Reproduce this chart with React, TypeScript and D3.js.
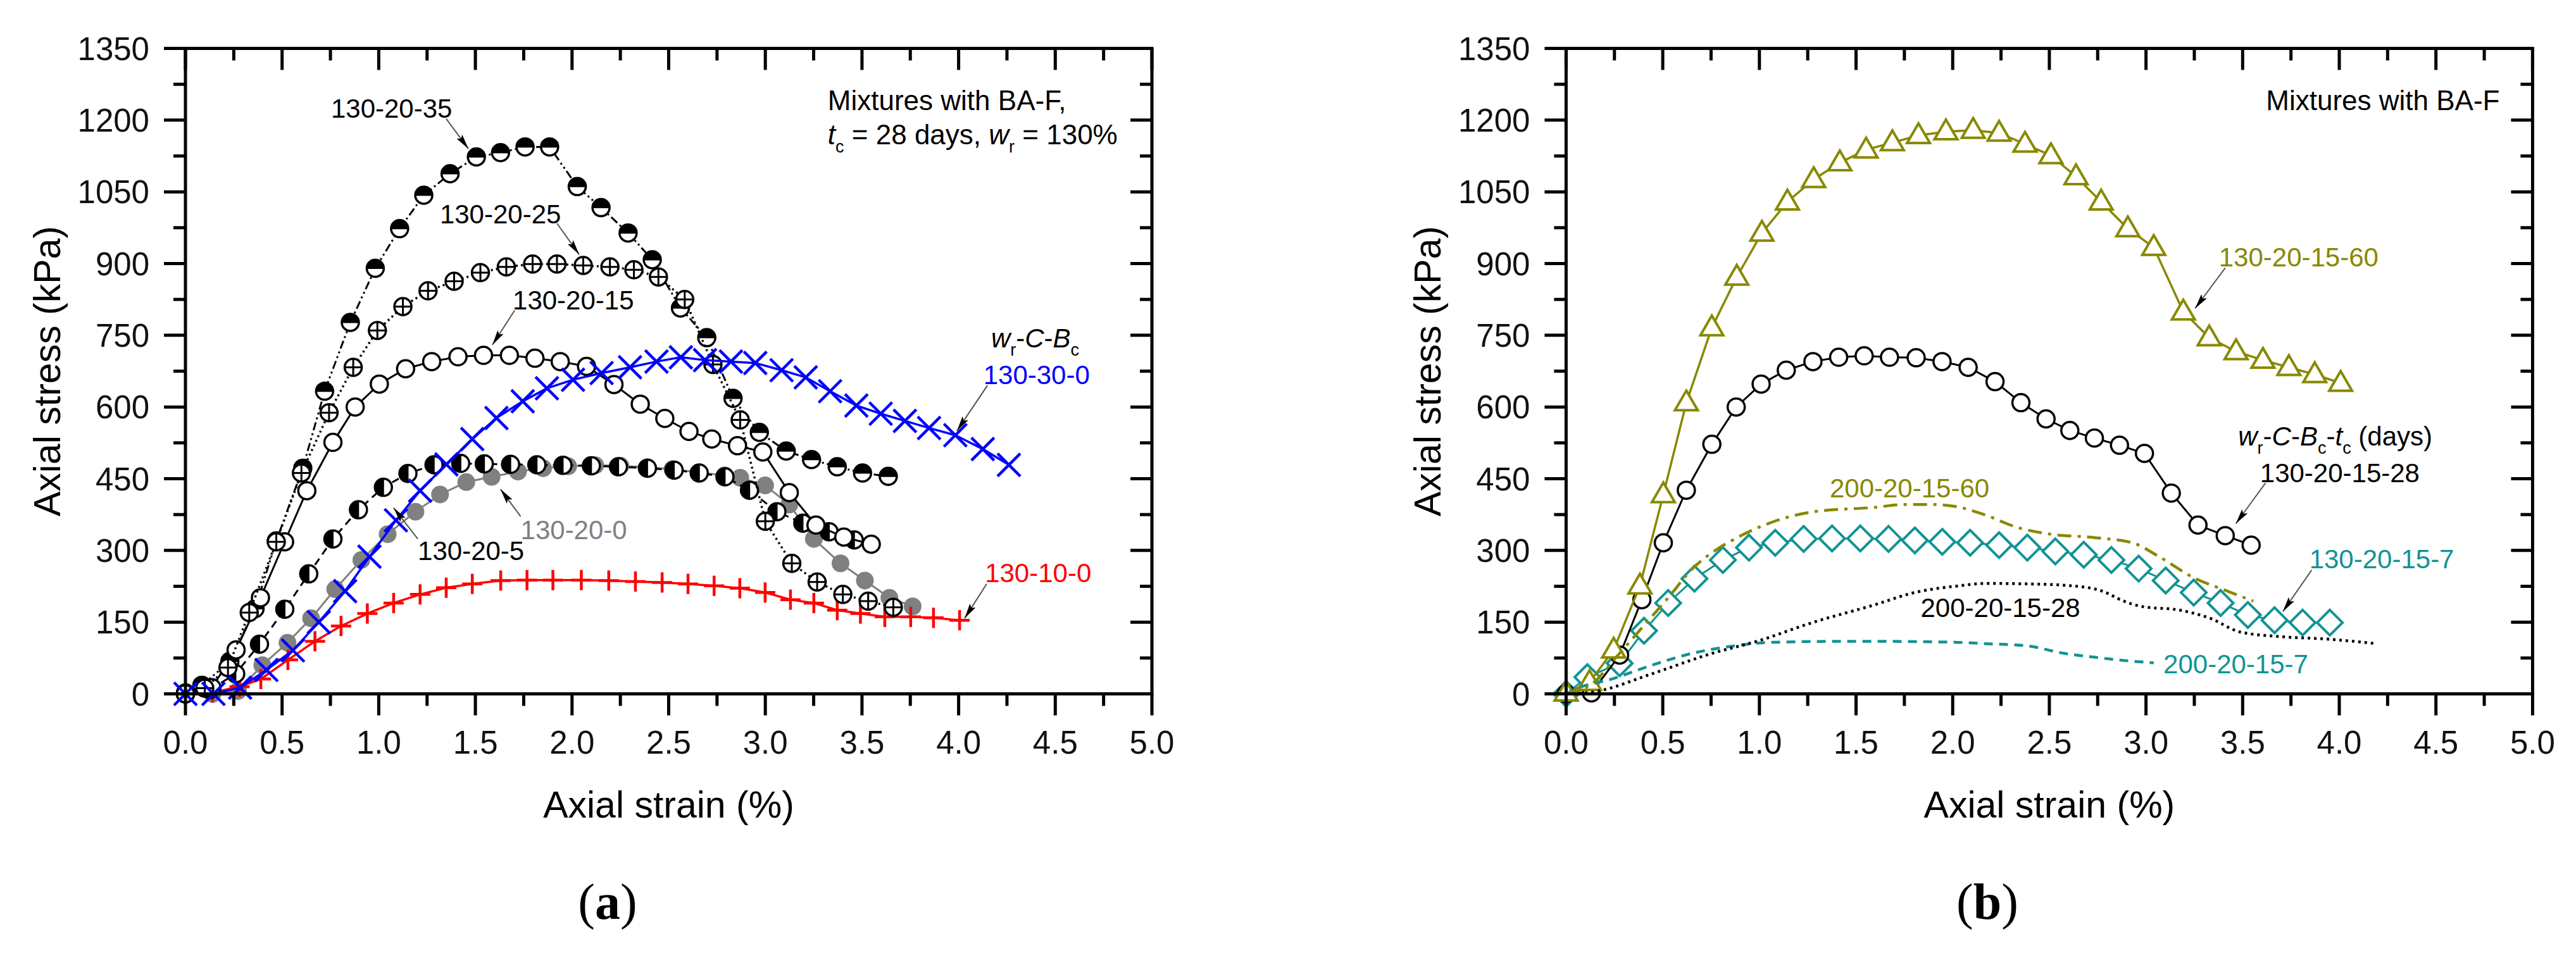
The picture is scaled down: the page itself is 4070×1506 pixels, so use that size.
import React from "react";
import * as d3 from "d3";

type Pt = [number, number];

// axis ticks
const xTicks = [0, 0.5, 1, 1.5, 2, 2.5, 3, 3.5, 4, 4.5, 5];
const yTicks = [0, 150, 300, 450, 600, 750, 900, 1050, 1200, 1350];
const xMinor = d3.range(0.25, 5, 0.5);
const yMinor = d3.range(75, 1350, 150);

// panel (a): [axial strain %, axial stress kPa]
const a130_20_35: Pt[] = [
  [0, 2], [0.085, 18], [0.23, 68], [0.36, 178], [0.47, 320], [0.607, 472], [0.72, 633],
  [0.853, 777], [0.982, 890], [1.108, 973], [1.233, 1043], [1.369, 1088], [1.505, 1123],
  [1.63, 1132], [1.757, 1144], [1.884, 1144], [2.027, 1061], [2.15, 1017], [2.29, 964],
  [2.415, 908], [2.561, 807], [2.697, 745], [2.833, 618], [2.969, 547], [3.108, 508],
  [3.239, 490], [3.372, 475], [3.503, 462], [3.636, 455],
];
const a130_20_25: Pt[] = [
  [0, 0], [0.1, 12], [0.22, 55], [0.33, 170], [0.47, 318], [0.6, 462], [0.743, 588],
  [0.868, 683], [0.993, 760], [1.125, 810], [1.255, 843], [1.39, 863], [1.526, 881],
  [1.66, 893], [1.796, 899], [1.922, 899], [2.058, 896], [2.196, 893], [2.32, 887],
  [2.447, 872], [2.583, 825], [2.729, 689], [2.87, 573], [3.0, 361], [3.137, 273],
  [3.268, 234], [3.401, 208], [3.532, 194], [3.662, 181],
];
const a130_20_15: Pt[] = [
  [0, 0], [0.137, 13], [0.262, 92], [0.388, 201], [0.513, 318], [0.628, 425], [0.763, 526],
  [0.878, 600], [1.003, 648], [1.139, 680], [1.274, 695], [1.41, 705], [1.542, 708],
  [1.676, 708], [1.808, 702], [1.939, 695], [2.075, 685], [2.217, 647], [2.353, 606],
  [2.48, 576], [2.605, 549], [2.723, 533], [2.856, 519], [2.987, 506], [3.124, 421],
  [3.262, 353], [3.406, 328], [3.548, 313],
];
const a130_20_5: Pt[] = [
  [0, 0], [0.127, 9], [0.26, 42], [0.383, 104], [0.514, 177], [0.638, 251], [0.763, 324],
  [0.895, 385], [1.024, 432], [1.151, 461], [1.286, 479], [1.424, 482], [1.546, 481],
  [1.682, 480], [1.818, 479], [1.953, 478], [2.1, 477], [2.24, 475], [2.39, 472],
  [2.528, 468], [2.658, 462], [2.791, 454], [2.918, 426], [3.06, 381], [3.194, 357],
  [3.33, 339], [3.46, 322],
];
const a130_20_0: Pt[] = [
  [0, 0], [0.14, 0], [0.272, 6], [0.398, 60], [0.528, 107], [0.65, 158], [0.775, 219],
  [0.91, 280], [1.046, 334], [1.19, 381], [1.317, 417], [1.453, 443], [1.584, 454],
  [1.72, 465], [1.85, 472], [1.98, 476], [2.12, 478], [2.25, 477], [2.39, 474], [2.52, 470],
  [2.66, 463], [2.79, 457], [2.87, 452], [2.999, 436], [3.124, 396], [3.251, 324],
  [3.389, 273], [3.515, 237], [3.642, 201], [3.762, 183],
];
const a130_30_0: Pt[] = [
  [0, 0], [0.145, 0], [0.283, 13], [0.419, 50], [0.556, 91], [0.69, 150], [0.826, 215],
  [0.952, 287], [1.089, 363], [1.214, 425], [1.35, 480], [1.484, 533], [1.609, 577],
  [1.745, 612], [1.87, 639], [2.005, 657], [2.153, 671], [2.3, 683], [2.437, 695],
  [2.563, 704], [2.688, 698], [2.822, 695], [2.948, 692], [3.084, 677], [3.209, 662],
  [3.335, 633], [3.471, 603], [3.597, 586], [3.722, 571], [3.847, 556], [3.983, 541],
  [4.125, 512], [4.26, 479],
];
const a130_10_0: Pt[] = [
  [0, 0], [0.14, 3], [0.28, 15], [0.39, 31], [0.53, 71], [0.67, 110], [0.805, 142],
  [0.941, 168], [1.077, 190], [1.214, 208], [1.349, 222], [1.484, 230], [1.631, 237],
  [1.767, 238], [1.901, 238], [2.048, 238], [2.19, 237], [2.328, 235], [2.466, 233],
  [2.6, 230], [2.735, 226], [2.868, 221], [2.999, 212], [3.13, 197], [3.251, 190],
  [3.372, 175], [3.492, 168], [3.618, 161], [3.752, 161], [3.87, 159], [4.005, 154],
];

// panel (b)
const b130_20_15_60: Pt[] = [
  [0, 2], [0.121, 24], [0.246, 92], [0.382, 226], [0.503, 417], [0.622, 609], [0.754, 766],
  [0.883, 872], [1.013, 964], [1.145, 1029], [1.281, 1076], [1.416, 1111], [1.552, 1138],
  [1.688, 1153], [1.823, 1168], [1.965, 1176], [2.106, 1179], [2.24, 1173], [2.374, 1150],
  [2.508, 1126], [2.638, 1082], [2.768, 1029], [2.906, 973], [3.04, 934], [3.193, 799],
  [3.327, 745], [3.466, 716], [3.605, 698], [3.739, 683], [3.873, 668], [4.007, 650],
];
const b130_20_15_28: Pt[] = [
  [0, 0], [0.131, 2], [0.277, 81], [0.392, 197], [0.503, 316], [0.622, 426], [0.754, 522],
  [0.88, 600], [1.009, 648], [1.139, 677], [1.277, 695], [1.41, 704], [1.542, 707],
  [1.673, 704], [1.811, 703], [1.945, 695], [2.08, 683], [2.219, 653], [2.353, 609],
  [2.483, 575], [2.606, 551], [2.733, 535], [2.863, 520], [2.992, 503], [3.131, 420],
  [3.269, 353], [3.41, 331], [3.544, 311],
];
const b130_20_15_7: Pt[] = [
  [0, 0], [0.11, 35], [0.277, 64], [0.403, 132], [0.528, 190], [0.664, 241], [0.811, 280],
  [0.946, 306], [1.082, 316], [1.229, 324], [1.376, 325], [1.522, 325], [1.668, 324],
  [1.804, 321], [1.946, 318], [2.09, 316], [2.24, 311], [2.386, 306], [2.531, 298],
  [2.678, 291], [2.821, 280], [2.962, 262], [3.102, 237], [3.247, 212], [3.386, 190],
  [3.527, 165], [3.665, 154], [3.81, 149], [3.951, 149],
];
const b200_20_15_60: Pt[] = [
  [0, 0], [0.13, 20], [0.277, 85], [0.403, 143], [0.528, 201], [0.654, 262], [0.779, 302],
  [0.863, 322], [1.072, 360], [1.281, 381], [1.594, 390], [1.75, 396], [1.9, 396],
  [2.013, 392], [2.17, 374], [2.327, 349], [2.505, 334], [2.73, 327], [2.93, 316],
  [3.064, 288], [3.242, 244], [3.421, 215], [3.555, 194],
];
const b200_20_15_28: Pt[] = [
  [0, 0], [0.153, 5], [0.444, 42], [0.758, 85], [0.987, 110], [1.281, 150], [1.594, 186],
  [1.803, 212], [2.034, 226], [2.17, 231], [2.393, 230], [2.617, 226], [2.773, 215],
  [2.885, 194], [2.975, 183], [3.176, 175], [3.332, 158], [3.49, 129], [3.69, 120],
  [3.958, 114], [4.193, 105],
];
const b200_20_15_7: Pt[] = [
  [0, 0], [0.067, 13], [0.236, 31], [0.444, 60], [0.654, 85], [0.863, 100], [1.072, 108],
  [1.49, 110], [2.012, 108], [2.17, 105], [2.393, 100], [2.571, 85], [2.728, 77],
  [2.906, 69], [3.04, 65],
];

const FONT = "'Liberation Sans', Arial, sans-serif";
const SERIF = "'Liberation Serif', 'Times New Roman', serif";
const OLIVE = "#888800";
const TEAL = "#129393";
const GRAY = "#808080";
const BLUE = "#0000ff";
const RED = "#ff0000";

const TOP = 76.5;
const BOTTOM = 1096.5;
const PW = 1527;

type Scale = d3.ScaleLinear<number, number>;
type MarkerKind = "open" | "halfTop" | "halfLeft" | "cross" | "dot" | "x" | "plus" | "tri" | "diamond";

function Marker({ kind, cx, cy, color }: { kind: MarkerKind; cx: number; cy: number; color: string }) {
  const r = 13.5;
  switch (kind) {
    case "open":
      return <circle cx={cx} cy={cy} r={r} fill="#fff" stroke={color} strokeWidth={3.5} />;
    case "halfTop":
      return (
        <g>
          <circle cx={cx} cy={cy} r={r} fill="#fff" />
          <path d={`M${cx - r},${cy + 1} A${r},${r} 0 0 1 ${cx + r},${cy + 1} Z`} fill="#000" />
          <circle cx={cx} cy={cy} r={r} fill="none" stroke="#000" strokeWidth={3.5} />
        </g>
      );
    case "halfLeft":
      return (
        <g>
          <circle cx={cx} cy={cy} r={r} fill="#fff" />
          <path d={`M${cx + 1},${cy - r} A${r},${r} 0 0 0 ${cx + 1},${cy + r} Z`} fill="#000" />
          <circle cx={cx} cy={cy} r={r} fill="none" stroke="#000" strokeWidth={3.5} />
        </g>
      );
    case "cross":
      return (
        <g stroke="#000" strokeWidth={3}>
          <circle cx={cx} cy={cy} r={r} fill="#fff" strokeWidth={3.5} />
          <line x1={cx - r} x2={cx + r} y1={cy} y2={cy} />
          <line x1={cx} x2={cx} y1={cy - r} y2={cy + r} />
        </g>
      );
    case "dot":
      return <circle cx={cx} cy={cy} r={14} fill={color} />;
    case "x": {
      const s = 18;
      return (
        <g stroke={color} strokeWidth={4.5}>
          <line x1={cx - s} y1={cy - s} x2={cx + s} y2={cy + s} />
          <line x1={cx - s} y1={cy + s} x2={cx + s} y2={cy - s} />
        </g>
      );
    }
    case "plus": {
      const s = 16;
      return (
        <g stroke={color} strokeWidth={4.5}>
          <line x1={cx - s} y1={cy} x2={cx + s} y2={cy} />
          <line x1={cx} y1={cy - s} x2={cx} y2={cy + s} />
        </g>
      );
    }
    case "tri":
      return (
        <path
          d={`M${cx},${cy - 19} L${cx + 18},${cy + 12} L${cx - 18},${cy + 12} Z`}
          fill="#fff"
          stroke={color}
          strokeWidth={4}
          strokeLinejoin="miter"
        />
      );
    case "diamond":
      return (
        <path
          d={`M${cx},${cy - 20} L${cx + 20},${cy} L${cx},${cy + 20} L${cx - 20},${cy} Z`}
          fill="#fff"
          stroke={color}
          strokeWidth={4}
        />
      );
  }
}

function Series({
  data, x, y, color, dash, width = 3, marker, smooth = false,
}: {
  data: Pt[]; x: Scale; y: Scale; color: string; dash?: string; width?: number;
  marker?: MarkerKind; smooth?: boolean;
}) {
  const line = d3
    .line<Pt>()
    .x((d) => x(d[0]))
    .y((d) => y(d[1]))
    .curve(smooth ? d3.curveMonotoneX : d3.curveLinear);
  return (
    <g>
      <path d={line(data) ?? ""} fill="none" stroke={color} strokeWidth={width} strokeDasharray={dash} />
      {marker &&
        data.map((d, i) => <Marker key={i} kind={marker} cx={x(d[0])} cy={y(d[1])} color={color} />)}
    </g>
  );
}

function Arrow({ x, y, from, to }: { x: Scale; y: Scale; from: Pt; to: Pt }) {
  return (
    <line
      x1={x(from[0])}
      y1={y(from[1])}
      x2={x(to[0])}
      y2={y(to[1])}
      stroke="#555"
      strokeWidth={2}
      markerEnd="url(#head)"
    />
  );
}

function Label({ x, y, at, color = "#000", size = 42, anchor = "start", children }: {
  x: Scale; y: Scale; at: Pt; color?: string; size?: number; anchor?: string; children: React.ReactNode;
}) {
  return (
    <text x={x(at[0])} y={y(at[1])} fill={color} fontSize={size} textAnchor={anchor as any} fontFamily={FONT}>
      {children}
    </text>
  );
}

function Panel({ left, tag, tagX, draw }: {
  left: number; tag: string; tagX: number; draw: (x: Scale, y: Scale) => React.ReactNode;
}) {
  const x = d3.scaleLinear().domain([0, 5]).range([left, left + PW]);
  const y = d3.scaleLinear().domain([0, 1350]).range([BOTTOM, TOP]);
  const right = left + PW;
  const fx = d3.format(".1f");
  const major = 34;
  const minor = 19;
  return (
    <g fontFamily={FONT}>
      {draw(x, y)}
      {/* frame */}
      <rect x={left} y={TOP} width={PW} height={BOTTOM - TOP} fill="none" stroke="#000" strokeWidth={5} />
      <g stroke="#000" strokeWidth={5}>
        {xTicks.map((t) => (
          <g key={"x" + t}>
            <line x1={x(t)} x2={x(t)} y1={BOTTOM} y2={BOTTOM + major} />
            <line x1={x(t)} x2={x(t)} y1={TOP} y2={TOP + major} />
          </g>
        ))}
        {xMinor.map((t) => (
          <g key={"xm" + t}>
            <line x1={x(t)} x2={x(t)} y1={BOTTOM} y2={BOTTOM + minor} />
            <line x1={x(t)} x2={x(t)} y1={TOP} y2={TOP + minor} />
          </g>
        ))}
        {yTicks.map((t) => (
          <g key={"y" + t}>
            <line x1={left - major} x2={left} y1={y(t)} y2={y(t)} />
            <line x1={right - major} x2={right} y1={y(t)} y2={y(t)} />
          </g>
        ))}
        {yMinor.map((t) => (
          <g key={"ym" + t}>
            <line x1={left - minor} x2={left} y1={y(t)} y2={y(t)} />
            <line x1={right - minor} x2={right} y1={y(t)} y2={y(t)} />
          </g>
        ))}
      </g>
      {xTicks.map((t) => (
        <text key={"xl" + t} x={x(t)} y={BOTTOM + 94} fontSize={51} textAnchor="middle" fill="#111">
          {fx(t)}
        </text>
      ))}
      {yTicks.map((t) => (
        <text key={"yl" + t} x={left - 57} y={y(t) + 18} fontSize={51} textAnchor="end" fill="#111">
          {t}
        </text>
      ))}
      <text x={(left + right) / 2} y={1292} fontSize={59} textAnchor="middle">
        Axial strain (%)
      </text>
      <text
        transform={`translate(${left - 198},${(TOP + BOTTOM) / 2}) rotate(-90)`}
        fontSize={59}
        textAnchor="middle"
      >
        Axial stress (kPa)
      </text>
      <text x={tagX} y={1452} fontSize={80} textAnchor="middle" fontFamily={SERIF}>
        (<tspan fontWeight="bold">{tag}</tspan>)
      </text>
    </g>
  );
}

const sub = (s: string) => (
  <tspan fontSize={27} dy={13}>
    {s}
  </tspan>
);

export default function App() {
  return (
    <svg
      width={4070}
      height={1506}
      style={{ position: "absolute", left: 0, top: 0, background: "#fff" }}
    >
      <defs>
        <marker
          id="head"
          viewBox="0 0 22 10"
          refX={22}
          refY={5}
          markerWidth={24}
          markerHeight={11}
          markerUnits="userSpaceOnUse"
          orient="auto"
        >
          <path d="M0,0 L22,5 L0,10 L4,5 Z" fill="#000" />
        </marker>
      </defs>
      <rect width={4070} height={1506} fill="#fff" />

      <Panel
        left={293}
        tag="a"
        tagX={960}
        draw={(x, y) => (
          <g>
            <Series data={a130_20_0} x={x} y={y} color={GRAY} marker="dot" />
            <Series data={a130_10_0} x={x} y={y} color={RED} width={3.5} marker="plus" />
            <Series data={a130_20_5} x={x} y={y} color="#000" dash="12 8" marker="halfLeft" />
            <Series data={a130_20_35} x={x} y={y} color="#000" dash="13 5 3 5 3 5" marker="halfTop" />
            <Series data={a130_20_15} x={x} y={y} color="#000" marker="open" />
            <Series data={a130_20_25} x={x} y={y} color="#000" dash="3 5" width={3.5} marker="cross" />
            <Series data={a130_30_0} x={x} y={y} color={BLUE} width={3.5} marker="x" />

            <Label x={x} y={y} at={[0.753, 1205]}>130-20-35</Label>
            <Arrow x={x} y={y} from={[1.349, 1203]} to={[1.464, 1140]} />
            <Label x={x} y={y} at={[1.316, 984]}>130-20-25</Label>
            <Arrow x={x} y={y} from={[1.922, 984]} to={[2.037, 919]} />
            <Label x={x} y={y} at={[1.693, 804]}>130-20-15</Label>
            <Arrow x={x} y={y} from={[1.703, 802]} to={[1.588, 730]} />
            <Label x={x} y={y} at={[1.202, 280]}>130-20-5</Label>
            <Arrow x={x} y={y} from={[1.202, 324]} to={[1.077, 389]} />
            <Label x={x} y={y} at={[1.734, 324]} color={GRAY}>130-20-0</Label>
            <Arrow x={x} y={y} from={[1.734, 371]} to={[1.63, 428]} />
            <Label x={x} y={y} at={[4.136, 234]} color={RED}>130-10-0</Label>
            <Arrow x={x} y={y} from={[4.145, 230]} to={[4.031, 158]} />
            <Label x={x} y={y} at={[4.128, 648]} color={BLUE}>130-30-0</Label>
            <Arrow x={x} y={y} from={[4.149, 645]} to={[3.991, 550]} />
            <Label x={x} y={y} at={[4.168, 725]}>
              <tspan fontStyle="italic">w</tspan>
              {sub("r")}
              <tspan dy={-13}>-</tspan>
              <tspan fontStyle="italic">C</tspan>-<tspan fontStyle="italic">B</tspan>
              {sub("c")}
            </Label>
            <Label x={x} y={y} at={[3.323, 1221]} size={44}>Mixtures with BA-F,</Label>
            <Label x={x} y={y} at={[3.323, 1149]} size={44}>
              <tspan fontStyle="italic">t</tspan>
              {sub("c")}
              <tspan dy={-13}> = 28 days, </tspan>
              <tspan fontStyle="italic">w</tspan>
              {sub("r")}
              <tspan dy={-13}> = 130%</tspan>
            </Label>
          </g>
        )}
      />

      <Panel
        left={2474.4}
        tag="b"
        tagX={3140}
        draw={(x, y) => (
          <g>
            <Series data={b130_20_15_7} x={x} y={y} color={TEAL} marker="diamond" />
            <Series data={b130_20_15_28} x={x} y={y} color="#000" marker="open" />
            <Series data={b130_20_15_60} x={x} y={y} color={OLIVE} width={3.5} marker="tri" />
            <Series data={b200_20_15_7} x={x} y={y} color={TEAL} dash="14 10" width={4.5} smooth />
            <Series data={b200_20_15_28} x={x} y={y} color="#000" dash="4 6" width={4.5} smooth />
            <Series data={b200_20_15_60} x={x} y={y} color={OLIVE} dash="22 10 5 10" width={4.5} smooth />

            <Label x={x} y={y} at={[4.83, 1221]} size={44} anchor="end">Mixtures with BA-F</Label>
            <Label x={x} y={y} at={[3.377, 894]} color={OLIVE}>130-20-15-60</Label>
            <Arrow x={x} y={y} from={[3.41, 891]} to={[3.254, 806]} />
            <Label x={x} y={y} at={[3.477, 519]}>
              <tspan fontStyle="italic">w</tspan>
              {sub("r")}
              <tspan dy={-13}>-</tspan>
              <tspan fontStyle="italic">C</tspan>-<tspan fontStyle="italic">B</tspan>
              {sub("c")}
              <tspan dy={-13}>-</tspan>
              <tspan fontStyle="italic">t</tspan>
              {sub("c")}
              <tspan dy={-13}> (days)</tspan>
            </Label>
            <Label x={x} y={y} at={[3.59, 443]}>130-20-15-28</Label>
            <Arrow x={x} y={y} from={[3.618, 441]} to={[3.465, 356]} />
            <Label x={x} y={y} at={[3.845, 263]} color={TEAL}>130-20-15-7</Label>
            <Arrow x={x} y={y} from={[3.857, 259]} to={[3.708, 172]} />
            <Label x={x} y={y} at={[1.364, 411]} color={OLIVE}>200-20-15-60</Label>
            <Label x={x} y={y} at={[1.834, 161]}>200-20-15-28</Label>
            <Label x={x} y={y} at={[3.09, 43]} color={TEAL}>200-20-15-7</Label>
          </g>
        )}
      />
    </svg>
  );
}
